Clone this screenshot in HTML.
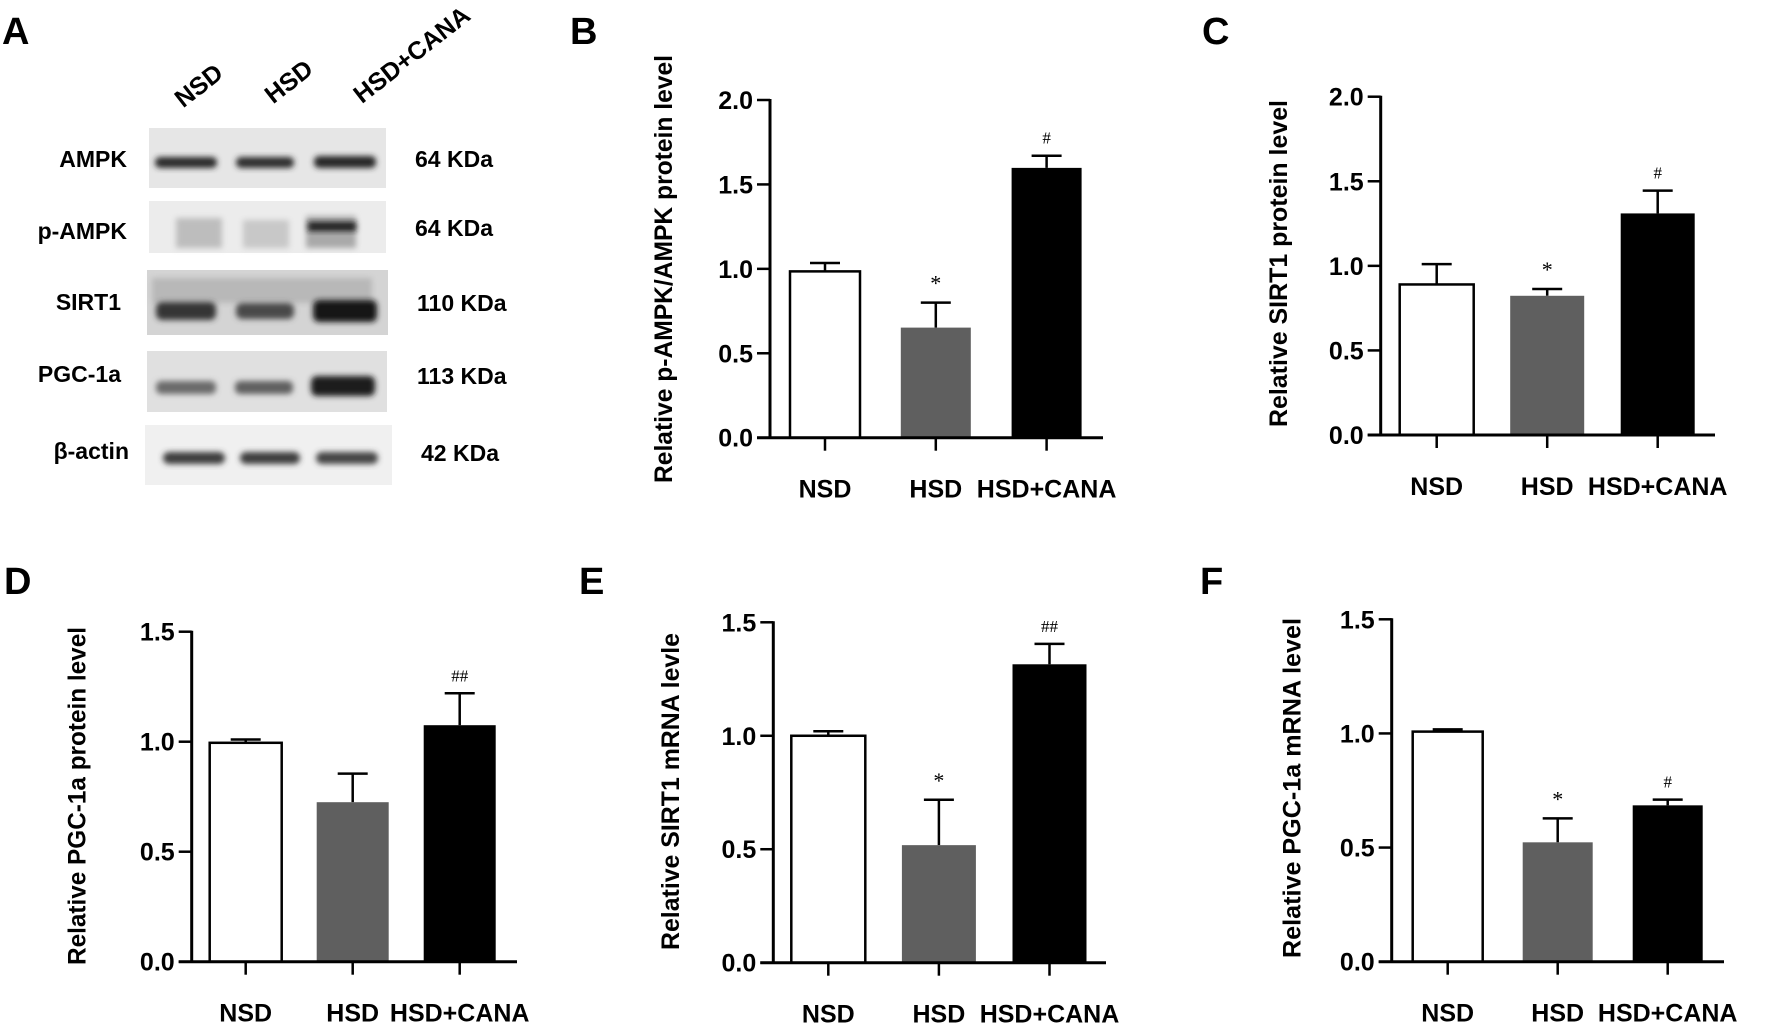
<!DOCTYPE html>
<html><head><meta charset="utf-8"><style>
html,body{margin:0;padding:0;background:#fff;}
svg{display:block;font-family:"Liberation Sans",Arial,sans-serif;}
</style></head><body>
<svg id="fig" width="1772" height="1028" viewBox="0 0 1772 1028" xmlns="http://www.w3.org/2000/svg">
<defs>
<filter id="blur3" x="-20%" y="-50%" width="140%" height="200%"><feGaussianBlur stdDeviation="3"/></filter>
</defs>
<g font-weight="bold">
<text x="2" y="44" font-size="38">A</text>
<text x="199" y="94" font-size="25" text-anchor="middle" transform="rotate(-38 199 86)">NSD</text>
<text x="289" y="90" font-size="25" text-anchor="middle" transform="rotate(-38 289 82)">HSD</text>
<text x="412" y="63" font-size="25" text-anchor="middle" transform="rotate(-38 412 55)">HSD+CANA</text>
<g>
<rect x="149" y="128" width="237" height="60" fill="#e6e6e6"/>
<rect x="155" y="157" width="62" height="11" rx="5" fill="#2a2a2a" filter="url(#blur3)"/>
<rect x="236" y="157" width="58" height="11" rx="5" fill="#2e2e2e" filter="url(#blur3)"/>
<rect x="314" y="156" width="62" height="12" rx="5" fill="#252525" filter="url(#blur3)"/>
</g>
<g>
<rect x="149" y="201" width="237" height="52" fill="#ececec"/>
<rect x="176" y="218" width="46" height="30" fill="#bdbdbd" filter="url(#blur3)"/>
<rect x="243" y="220" width="46" height="28" fill="#c8c8c8" filter="url(#blur3)"/>
<rect x="306" y="216" width="50" height="32" fill="#a9a9a9" filter="url(#blur3)"/>
<rect x="308" y="222" width="48" height="9" fill="#1e1e1e" filter="url(#blur3)"/>
</g>
<g>
<rect x="147" y="270" width="241" height="65" fill="#d4d4d4"/>
<rect x="152" y="278" width="220" height="25" fill="#b8b8b8" filter="url(#blur3)"/>
<rect x="156" y="302" width="60" height="18" rx="6" fill="#353535" filter="url(#blur3)"/>
<rect x="236" y="303" width="58" height="16" rx="6" fill="#4a4a4a" filter="url(#blur3)"/>
<rect x="313" y="300" width="64" height="22" rx="6" fill="#151515" filter="url(#blur3)"/>
</g>
<g>
<rect x="147" y="351" width="240" height="61" fill="#e0e0e0"/>
<rect x="156" y="381" width="60" height="13" rx="5" fill="#6a6a6a" filter="url(#blur3)"/>
<rect x="235" y="381" width="58" height="13" rx="5" fill="#5e5e5e" filter="url(#blur3)"/>
<rect x="311" y="376" width="64" height="20" rx="6" fill="#1c1c1c" filter="url(#blur3)"/>
</g>
<g>
<rect x="145" y="425" width="247" height="60" fill="#f0f0f0"/>
<rect x="163" y="452" width="62" height="12" rx="6" fill="#3c3c3c" filter="url(#blur3)"/>
<rect x="240" y="452" width="60" height="12" rx="6" fill="#3c3c3c" filter="url(#blur3)"/>
<rect x="316" y="452" width="62" height="12" rx="6" fill="#454545" filter="url(#blur3)"/>
</g>
<g font-size="23" text-anchor="end">
<text x="127" y="167">AMPK</text>
<text x="127" y="239">p-AMPK</text>
<text x="121" y="310">SIRT1</text>
<text x="121" y="382">PGC-1a</text>
<text x="129" y="459">β-actin</text>
</g>
<g font-size="23">
<text x="415" y="167">64 KDa</text>
<text x="415" y="236">64 KDa</text>
<text x="417" y="311">110 KDa</text>
<text x="417" y="384">113 KDa</text>
<text x="421" y="461">42 KDa</text>
</g>
</g>
</svg>
<script>
const categories = ["NSD", "HSD", "HSD+CANA"];
const valuesB = [0.985, 0.652, 1.598];
const errorsB = [0.05, 0.148, 0.072];
const marksB = ["", "*", "#"];
const ticksB = ["0.0", "0.5", "1.0", "1.5", "2.0"];
const valuesC = [0.89, 0.823, 1.31];
const errorsC = [0.12, 0.04, 0.135];
const marksC = ["", "*", "#"];
const ticksC = ["0.0", "0.5", "1.0", "1.5", "2.0"];
const valuesD = [0.995, 0.725, 1.075];
const errorsD = [0.015, 0.13, 0.145];
const marksD = ["", "", "##"];
const ticksD = ["0.0", "0.5", "1.0", "1.5"];
const valuesE = [1.0, 0.518, 1.315];
const errorsE = [0.02, 0.2, 0.09];
const marksE = ["", "*", "##"];
const ticksE = ["0.0", "0.5", "1.0", "1.5"];
const valuesF = [1.008, 0.523, 0.685];
const errorsF = [0.01, 0.105, 0.025];
const marksF = ["", "*", "#"];
const ticksF = ["0.0", "0.5", "1.0", "1.5"];

const NS = "http://www.w3.org/2000/svg";
const svg = document.getElementById("fig");
function mk(tag, attrs, parent) {
  const e = document.createElementNS(NS, tag);
  for (const k in attrs) e.setAttribute(k, attrs[k]);
  (parent || svg).appendChild(e);
  return e;
}
const fills = ["#ffffff", "#5f5f5f", "#000000"];
const catNames = ["nsd", "hsd", "hsd-cana"];

function panel(cfg, values, errors, marks, ticks) {
  const g = mk("g", {});
  
  
  const maxV = parseFloat(ticks[ticks.length - 1]);
  const y = v => cfg.y0 - (v / maxV) * (cfg.y0 - cfg.yTop);
  const x = i => cfg.x0 + i * cfg.step;
  const lbl = mk("text", {x: cfg.lx, y: cfg.ly, "font-size": 38, "font-weight": "bold"}, g);
  lbl.textContent = cfg.id.toUpperCase();
  
  
  values.forEach((v, i) => {
    const cx = x(i);
    const top = y(v), et = y(v + errors[i]);
    const eb = mk("line", {x1: cx, x2: cx, y1: top, y2: et, stroke: "#000", "stroke-width": 2.5}, g);
    
    
    const cap = mk("line", {x1: cx - 15, x2: cx + 15, y1: et, y2: et, stroke: "#000", "stroke-width": 2.5}, g);
    
    
    const r = mk("rect", {x: cx - cfg.bw / 2, y: top, width: cfg.bw, height: cfg.y0 - top,
      fill: fills[i], stroke: "#000", "stroke-width": i === 0 ? 2.5 : 0}, g);
    
    
    if (marks[i]) {
      const m = mk("text", {x: cx, y: et - 12, "font-size": marks[i] === "*" ? 22 : 17,
        "text-anchor": "middle", "font-family": "Liberation Serif, serif"}, g);
      m.textContent = marks[i];
      
      
    }
    const t = mk("line", {x1: cx, x2: cx, y1: cfg.y0, y2: cfg.y0 + 13, stroke: "#000", "stroke-width": 2.5}, g);
    
    
    const tl = mk("text", {x: cx, y: cfg.y0 + 60, "font-size": 25, "font-weight": "bold", "text-anchor": "middle"}, g);
    tl.textContent = categories[i];
    
    
  });
  const ya = mk("line", {x1: cfg.ax, x2: cfg.ax, y1: cfg.yTop - 1, y2: cfg.y0 + 1.2, stroke: "#000", "stroke-width": 3}, g);
  
  
  const xa = mk("line", {x1: cfg.ax - 13, x2: cfg.xEnd, y1: cfg.y0, y2: cfg.y0, stroke: "#000", "stroke-width": 3}, g);
  
  
  ticks.forEach(tk => {
    const yy = y(parseFloat(tk));
    const l = mk("line", {x1: cfg.ax - 13, x2: cfg.ax, y1: yy, y2: yy, stroke: "#000", "stroke-width": 2.5}, g);
    
    
    const t = mk("text", {x: cfg.ax - 17, y: yy + 9, "font-size": 25, "font-weight": "bold", "text-anchor": "end"}, g);
    t.textContent = tk;
    
    
  });
  const yt = mk("text", {x: 0, y: 0, "font-size": 25, "font-weight": "bold", "text-anchor": "middle",
    transform: "translate(" + (cfg.tx + 9) + "," + cfg.ty + ") rotate(-90)",
    textLength: cfg.tlen, lengthAdjust: "spacingAndGlyphs"}, g);
  yt.textContent = cfg.title;
  
  
}

panel({id: "b", lx: 570, ly: 44, ax: 770, y0: 437.7, yTop: 100, x0: 825, step: 110.8, bw: 70, xEnd: 1103,
  tx: 663, ty: 269, tlen: 428, title: "Relative p-AMPK/AMPK protein level"}, valuesB, errorsB, marksB, ticksB);
panel({id: "c", lx: 1202, ly: 44, ax: 1380.7, y0: 435, yTop: 96.7, x0: 1436.7, step: 110.5, bw: 74, xEnd: 1715,
  tx: 1278, ty: 263.5, tlen: 327, title: "Relative SIRT1 protein level"}, valuesC, errorsC, marksC, ticksC);
panel({id: "d", lx: 4, ly: 594, ax: 191.7, y0: 961.7, yTop: 631.7, x0: 245.7, step: 107, bw: 72, xEnd: 517,
  tx: 76.7, ty: 796, tlen: 338, title: "Relative PGC-1a protein level"}, valuesD, errorsD, marksD, ticksD);
panel({id: "e", lx: 579, ly: 594, ax: 773.3, y0: 962.7, yTop: 622.3, x0: 828.3, step: 110.6, bw: 74, xEnd: 1106,
  tx: 670, ty: 791.5, tlen: 317, title: "Relative SIRT1 mRNA levle"}, valuesE, errorsE, marksE, ticksE);
panel({id: "f", lx: 1200, ly: 594, ax: 1391.7, y0: 961.7, yTop: 619.3, x0: 1447.7, step: 110, bw: 70, xEnd: 1724,
  tx: 1291.7, ty: 788, tlen: 340, title: "Relative PGC-1a mRNA level"}, valuesF, errorsF, marksF, ticksF);
</script>
</body></html>
